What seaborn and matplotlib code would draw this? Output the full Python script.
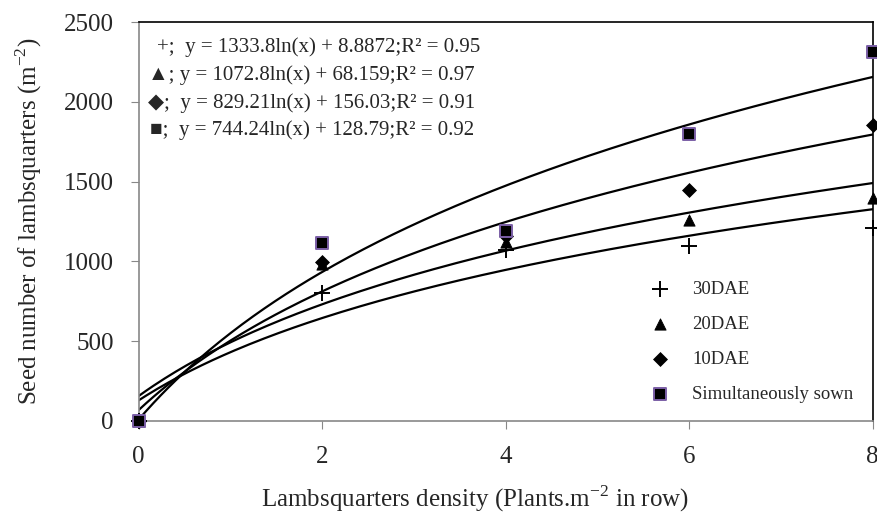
import numpy as np
import pandas as pd
import matplotlib
matplotlib.use("Agg")
import matplotlib.pyplot as plt
import seaborn as sns

# data
density = [0, 2, 4, 6, 8]
dae30 = [0, 802, 1071, 1095, 1209]
dae20 = [0, 985, 1121, 1259, 1400]
dae10 = [0, 996, 1160, 1447, 1855]
simultaneous = [0, 1115, 1190, 1800, 2312]

series_names = ["30DAE", "20DAE", "10DAE", "Simultaneously sown"]

# log trendlines from the equations (x = category index 1..5)
trend_a = [1333.8, 1072.8, 829.21, 744.24]
trend_b = [8.8872, 68.159, 156.03, 128.79]

eq_labels = [
    "+;  y = 1333.8ln(x) + 8.8872;R² = 0.95",
    "▲; y = 1072.8ln(x) + 68.159;R² = 0.97",
    "◆;  y = 829.21ln(x) + 156.03;R² = 0.91",
    "■;  y = 744.24ln(x) + 128.79;R² = 0.92",
]

df = pd.DataFrame({
    "density": density * 4,
    "seeds": dae30 + dae20 + dae10 + simultaneous,
    "group": [n for n in series_names for _ in density],
})

sns.set_style("white")
plt.rcParams["font.family"] = ["Liberation Serif", "DejaVu Sans"]
plt.rcParams["mathtext.fontset"] = "custom"
plt.rcParams["mathtext.rm"] = "Liberation Serif"

fig, ax = plt.subplots(figsize=(8.78, 5.12), dpi=100)
fig.subplots_adjust(left=0.158, right=0.994, top=0.957, bottom=0.178)

# trendlines
for a, b in zip(trend_a, trend_b):
    idx = np.linspace(1, 5, 200)
    sns.lineplot(x=(idx - 1) * 2, y=a * np.log(idx) + b, ax=ax,
                 color="black", linewidth=1.6, zorder=2)

styles = {
    "30DAE": dict(marker="+", s=120, color="black", linewidths=1.4),
    "20DAE": dict(marker="^", s=65, color="black", edgecolor="black"),
    "10DAE": dict(marker="D", s=50, color="black", edgecolor="black"),
    "Simultaneously sown": dict(marker="s", s=70, color="black",
                                edgecolor="#7b5fa6", linewidth=1.4),
}
for name in series_names:
    sub = df[df["group"] == name]
    sns.scatterplot(data=sub, x="density", y="seeds", ax=ax, label=name,
                    zorder=3, clip_on=False, **styles[name])

ax.set_xlim(0, 8)
ax.set_ylim(0, 2500)
ax.set_xticks([0, 2, 4, 6, 8])
ax.set_yticks([0, 500, 1000, 1500, 2000, 2500])
ax.tick_params(axis="both", labelsize=18, direction="out", length=6,
               color="#888888", left=True, bottom=True, pad=12)
for side in ["top", "right"]:
    ax.spines[side].set_color("black")
for side in ["left", "bottom"]:
    ax.spines[side].set_color("#888888")
for sp in ax.spines.values():
    sp.set_linewidth(1.2)

ax.set_xlabel("Lambsquarters density (Plants.m$^{\\mathrm{-2}}$ in row)",
              fontsize=18, labelpad=11)
ax.xaxis.label.set_x(0.458)
ax.set_ylabel("Seed number of lambsquarters (m$^{\\mathrm{-2}}$)",
              fontsize=18, labelpad=14)

eq_x = [0.025, 0.012, 0.012, 0.016]
eq_y = [0.937, 0.867, 0.797, 0.729]
for lx, ly, txt in zip(eq_x, eq_y, eq_labels):
    ax.text(lx, ly, txt, transform=ax.transAxes, fontsize=15, va="center", ha="left")

leg = ax.legend(loc="upper left", bbox_to_anchor=(0.662, 0.393), frameon=False,
                fontsize=13.5, labelspacing=0.95, handletextpad=0.7)

fig.savefig("out.png", dpi=100)
